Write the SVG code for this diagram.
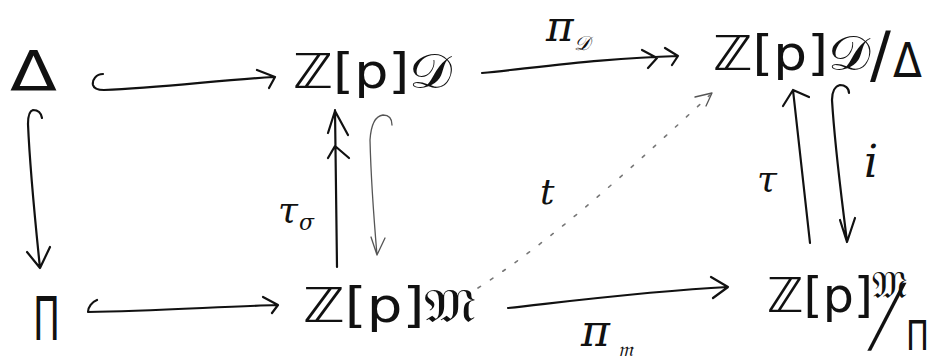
<svg xmlns="http://www.w3.org/2000/svg" width="932" height="361" viewBox="0 0 932 361">
<defs>
<style>
.t{font-family:"DejaVu Sans","Noto Sans",sans-serif;fill:#111}
.lab{font-family:"DejaVu Serif","Liberation Serif",serif;font-style:italic;fill:#111}
.ln{fill:none;stroke:#111;stroke-width:2.2;stroke-linecap:round;stroke-linejoin:round}
.thin{fill:none;stroke:#555;stroke-width:1.3;stroke-linecap:round;stroke-linejoin:round}
.dot{fill:none;stroke:#777;stroke-width:1.6;stroke-dasharray:3 12;stroke-linecap:round}
</style>
</defs>
<rect width="932" height="361" fill="#fff"/>
<g id="delta"><text class="t" x="10" y="90" font-size="56" textLength="47" lengthAdjust="spacingAndGlyphs">Δ</text></g>
<g id="ZpD"><text class="t" x="293" y="88" font-size="48" textLength="159" lengthAdjust="spacingAndGlyphs">ℤ[p]𝒟</text></g>
<g id="ZpD_mod_delta"><text class="t" font-size="48"><tspan x="713" y="70" textLength="157" lengthAdjust="spacingAndGlyphs">ℤ[p]𝒟</tspan><tspan x="870" y="76" font-size="62">/</tspan><tspan x="893" y="77" font-size="48" textLength="29" lengthAdjust="spacingAndGlyphs">Δ</tspan></text></g>
<g id="pi"><text class="t" x="33" y="340" font-size="60" textLength="27" lengthAdjust="spacingAndGlyphs">Π</text></g>
<g id="ZpM"><text class="t" x="303" y="322" font-size="48" textLength="173" lengthAdjust="spacingAndGlyphs">ℤ[p]𝔐</text></g>
<g id="ZpM_mod_pi"><text class="t" font-size="48"><tspan x="767" y="312" textLength="106" lengthAdjust="spacingAndGlyphs">ℤ[p]</tspan><tspan x="872" y="298" font-size="38">𝔐</tspan></text><text class="t" font-size="46" transform="translate(870,343) scale(1,1.8) skewX(-32)">/</text><text class="t" x="906" y="350" font-size="40" textLength="23" lengthAdjust="spacingAndGlyphs">Π</text></g>
<g id="connectors">
<path class="ln" d="M103,74 C96,74 92,80 93,85 C94,89 98,90 104,90 C160,88 220,80 274,77 M257,70 L275,77 L269,88"/>
<path class="ln" d="M482,73 C550,66 610,58 678,56 M665,48 L678,56 L672,65 M642,50 L657,58 L648,68"/>
<path class="ln" d="M42,118 C41,112 37,110 33,110 C29,111 28,116 28,124 C30,170 35,220 40,268 M27,252 L40,268 L50,247"/>
<path class="ln" d="M337,267 L335,110 M328,133 L335,111 L348,135 M328,158 L335,146 L349,158"/>
<path class="thin" d="M392,125 C392,118 388,115 383,115 C375,116 371,125 370,140 C371,180 374,220 377,255 M371,237 L377,255 L385,238"/>
<path class="ln" d="M97,300 C92,302 88,307 88,312 C150,311 215,307 277,305 M263,297 L278,305 L272,313"/>
<path class="ln" d="M508,308 C580,300 650,291 728,287 M711,277 L728,287 L713,298"/>
<path class="dot" d="M478,288 C560,235 640,160 710,95"/>
<path class="thin" d="M695,97 L712,93 L706,106"/>
<path class="ln" d="M810,243 L793,90 M783,106 L793,90 L809,97"/>
<path class="ln" d="M849,93 C849,88 845,85 840,85 C835,86 832,92 832,100 C835,150 842,200 847,242 M840,220 L847,242 L855,218"/>
<text class="lab" x="546" y="41" font-size="42">π</text>
<text class="lab" x="574" y="50" font-size="20" fill="#777">𝒟</text>
<text class="lab" x="581" y="346" font-size="44">π</text>
<text class="lab" x="618" y="356" font-size="20" fill="#777">𝔪</text>
<text class="lab" x="278" y="222" font-size="36">τ</text>
<text class="lab" x="299" y="230" font-size="22">σ</text>
<text class="lab" x="540" y="204" font-size="36">t</text>
<text class="lab" x="757" y="191" font-size="36">τ</text>
<text class="lab" x="864" y="177" font-size="44">i</text>
</g>
</svg>
